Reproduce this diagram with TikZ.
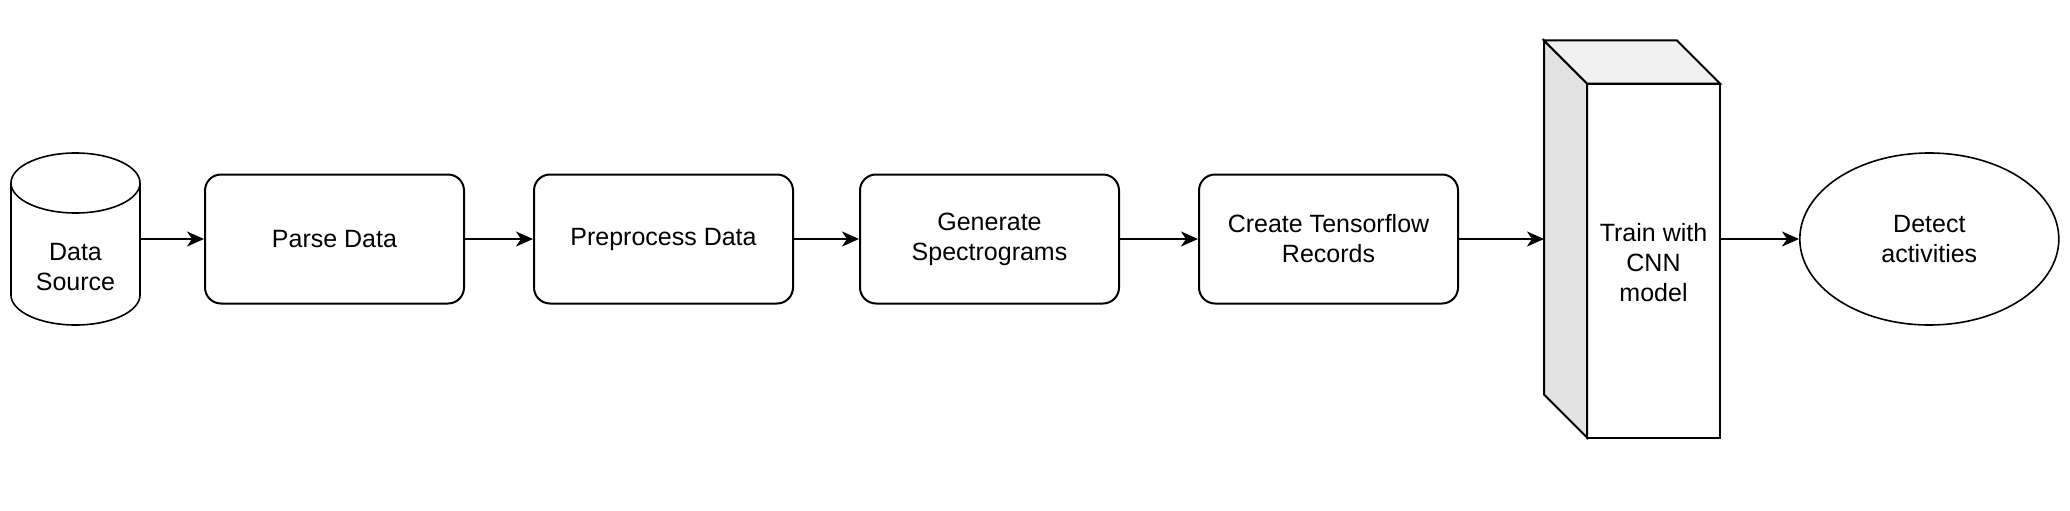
\documentclass[tikz,border=0pt]{standalone}
\usepackage{fontspec}
\setmainfont{Liberation Sans}
\usetikzlibrary{positioning,shapes.geometric,arrows.meta}
\definecolor{sidegray}{HTML}{E3E3E3}
\definecolor{topgray}{HTML}{F0F0F0}
\tikzset{node distance=32pt, auto,
	every node/.style={font=\fontsize{12.5}{15}\selectfont, align=center},
	proc/.style={draw, rounded corners=8pt, minimum width=129.5pt, minimum height=64.5pt, inner sep=2pt},
	store/.style={minimum width=64.5pt, minimum height=86pt, inner sep=0pt, outer sep=0pt},
	block/.style={minimum width=88pt, minimum height=198.5pt, inner sep=0pt, outer sep=0pt},
	goal/.style={ellipse, draw, line width=0.8pt, minimum width=129.5pt, minimum height=86pt, inner sep=0pt}}

\begin{document}
\begin{tikzpicture}[line width=1pt, >={Stealth[length=8.5pt,width=7.5pt,inset=2.5pt]}]
		\useasboundingbox (0,0) rectangle (1035pt,255pt);
		\node(DS)[store] at (37.75pt,135.5pt){};
		\node(PD)[proc, right=32pt of DS]{Parse Data};
		\node(PP)[proc, right=34pt of PD]{Preprocess Data};
		\node(GS)[proc, right=32.5pt of PP]{Generate\\Spectrograms};
		\node(TR)[proc, right=39pt of GS]{Create Tensorflow\\Records};
		\node(CNN)[block, right=42.5pt of TR]{};
		\node(DA)[goal, right=39.5pt of CNN]{Detect\\activities};
		% data source cylinder
		\draw[line width=0.8pt] ([yshift=-15pt]DS.north west) -- ([yshift=15pt]DS.south west)
			arc[start angle=180, end angle=360, x radius=32.25pt, y radius=15pt]
			-- ([yshift=-15pt]DS.north east)
			arc[start angle=0, end angle=180, x radius=32.25pt, y radius=15pt]
			arc[start angle=180, end angle=360, x radius=32.25pt, y radius=15pt];
		\node(DSt) at ([yshift=-14pt]DS.center){Data\\Source};
		% cnn block
		\filldraw[fill=sidegray] (CNN.north west) -- ([yshift=21.5pt]CNN.south west)
			-- ([xshift=21.5pt]CNN.south west) -- ([xshift=21.5pt,yshift=-21.5pt]CNN.north west) -- cycle;
		\filldraw[fill=topgray] (CNN.north west) -- ([xshift=-21.5pt]CNN.north east)
			-- ([yshift=-21.5pt]CNN.north east) -- ([xshift=21.5pt,yshift=-21.5pt]CNN.north west) -- cycle;
		\draw ([xshift=21.5pt]CNN.south west) rectangle ([yshift=-21.5pt]CNN.north east);
		\node(CNNt) at ([xshift=10.75pt,yshift=-12pt]CNN.center){Train with\\CNN\\model};
		\draw[->](DS) to (PD);
		\draw[->](PD) to (PP);
		\draw[->](PP) to (GS);
		\draw[->](GS) to (TR);
		\draw[->](TR) to (CNN);
		\draw[->](CNN) to (DA);
	\end{tikzpicture}
\end{document}
